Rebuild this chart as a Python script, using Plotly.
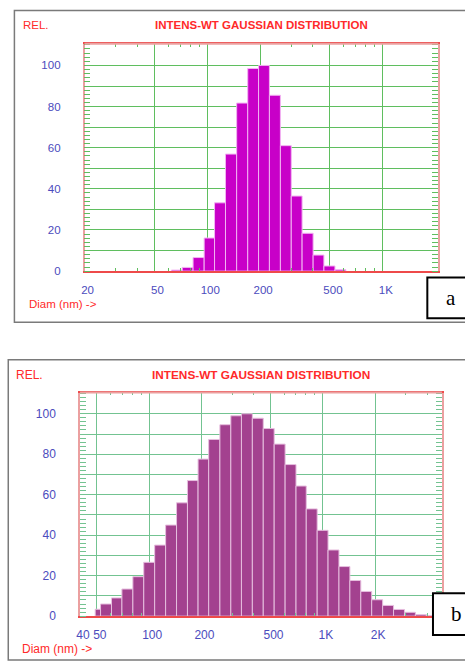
import math
import plotly.graph_objects as go

W, H = 465, 665

# ---- panel a: narrow distribution ----
a_edges = [62.5, 72, 83, 96, 110, 127, 147, 170, 196, 226, 261, 301, 347, 401, 462, 534, 616]
a_rel = [0.5, 1.8, 6.6, 16.1, 33.2, 56.9, 81.7, 98.5, 100, 85.5, 61.0, 36.5, 18.4, 7.8, 2.5, 0.7]
a_ticks = [20, 50, 100, 200, 500, 1000]
a_ticktext = ["20", "50", "100", "200", "500", "1K"]
a_minor = [30, 40, 60, 70, 80, 90, 300, 400, 600, 700, 800, 900]

# ---- panel b: broad distribution ----
b_edges = [48.9, 52.5, 60.7, 69.7, 80.6, 93.1, 107.6, 124.4, 143.8, 166.2, 191.3, 220.2,
           255.5, 295.3, 340, 392.9, 454, 524.8, 606.6, 701, 803, 928, 1072, 1239, 1432,
           1655, 1912, 2211, 2555, 2953, 3413, 3945, 4560]
b_rel = [3.4, 6.0, 9.0, 13.4, 19.5, 26.6, 35.1, 45.0, 56.0, 67.0, 77.6, 87.3, 94.6, 99.0,
         100, 97.8, 92.7, 85.0, 74.9, 64.3, 53.0, 42.4, 32.7, 24.5, 17.6, 12.2, 8.1, 5.3,
         3.3, 1.9, 0.8, 0.3]
b_ticks = [40, 50, 100, 200, 500, 1000, 2000]
b_ticktext = ["40", "50", "100", "200", "500", "1K", "2K"]
b_minor = [60, 70, 80, 90, 300, 400, 600, 700, 800, 900, 3000, 4000]

y_ticks = [0, 10, 20, 30, 40, 50, 60, 70, 80, 90, 100]
y_ticktext = ["0", "", "20", "", "40", "", "60", "", "80", "", "100"]

TITLE = "INTENS-WT GAUSSIAN DISTRIBUTION"
FONT = "Liberation Sans, Arial, sans-serif"
RED = "#ff2a2a"
BLUE = "#4b4bbd"


def px(x):
    return x / W


def py(y):
    return 1 - y / H


fig = go.Figure()
fig.add_trace(go.Bar(
    x=a_edges[:-1], y=a_rel, offset=0,
    width=[hi - lo for lo, hi in zip(a_edges[:-1], a_edges[1:])],
    marker=dict(color="#c800c8", line=dict(color="#f2b4f2", width=1)),
    xaxis="x", yaxis="y", showlegend=False,
))
fig.add_trace(go.Bar(
    x=b_edges[:-1], y=b_rel, offset=0,
    width=[hi - lo for lo, hi in zip(b_edges[:-1], b_edges[1:])],
    marker=dict(color="#a3418f", line=dict(color="#e6bede", width=1)),
    xaxis="x2", yaxis="y2", showlegend=False,
))


def xaxis(dom, anchor, lo, hi, ticks, text, minor, grid, size):
    return dict(
        type="log", domain=dom, anchor=anchor, range=[math.log10(lo), math.log10(hi)],
        tickmode="array", tickvals=ticks, ticktext=text, ticks="",
        showgrid=True, gridcolor=grid, gridwidth=1, zeroline=False,
        showline=True, linecolor="#ee4a4a", linewidth=1.5, mirror="ticks",
        ticklabelstandoff=7, ticklabelshift=3,
        tickfont=dict(family=FONT, size=size, color=BLUE),
        minor=dict(tickmode="array", tickvals=minor, ticks="inside", ticklen=3,
                   tickcolor=grid, tickwidth=1, showgrid=False),
        fixedrange=True,
    )


def yaxis(dom, anchor, grid, size):
    return dict(
        domain=dom, anchor=anchor, range=[0, 110.5],
        tickmode="array", tickvals=y_ticks, ticktext=y_ticktext, ticks="",
        showgrid=True, gridcolor=grid, gridwidth=1, zeroline=False,
        showline=True, linecolor="#eba0a0", linewidth=1.5, mirror="ticks",
        ticklabelstandoff=20, tickfont=dict(family=FONT, size=size, color=BLUE),
        minor=dict(dtick=2, tick0=0, ticks="inside", ticklen=6, tickcolor=grid,
                   tickwidth=1, showgrid=False),
        fixedrange=True,
    )


GREEN_A = "rgb(95,190,95)"
GREEN_B = "rgb(115,195,145)"

fig.update_layout(
    width=W, height=H, margin=dict(l=0, r=0, t=0, b=0),
    paper_bgcolor="white", plot_bgcolor="white",
    xaxis=xaxis([px(81.3), px(438)], "y", 20, 2070, a_ticks, a_ticktext, a_minor, GREEN_A, 11.5),
    yaxis=yaxis([py(274), py(44.3)], "x", GREEN_A, 11.5),
    xaxis2=xaxis([px(76.7), px(441.7)], "y2", 40, 4850, b_ticks, b_ticktext, b_minor, GREEN_B, 12),
    yaxis2=yaxis([py(622.7), py(396.7)], "x2", GREEN_B, 12),
)

# text labels
labels = [
    ("REL.", 17, 25, "left", 11.5, False),
    (TITLE, 260, 25, "center", 11.5, True),
    ("Diam (nm) ->", 23, 307, "left", 11.5, False),
    ("REL.", 10, 379, "left", 12, False),
    (TITLE, 259, 379, "center", 11.8, True),
    ("Diam (nm) ->", 16, 656, "left", 12, False),
]
for text, x, y, anchor, size, bold in labels:
    fig.add_annotation(
        text=f"<b>{text}</b>" if bold else text, x=px(x), y=py(y),
        xref="paper", yref="paper", xanchor=anchor, yanchor="middle", showarrow=False,
        font=dict(family=FONT, size=size, color=RED),
    )

# panel frames and the a / b tag boxes
for x0, y0, x1, y1 in [(10.5, 10.5, 467, 325.7), (4.3, 363.5, 467, 667)]:
    fig.add_shape(type="rect", xref="paper", yref="paper",
                  x0=px(x0), y0=py(y0), x1=px(x1), y1=py(y1),
                  line=dict(color="#7a7a7a", width=1.5), layer="below")

for x0, y0, x1, y1, tag in [(427, 280.5, 467, 321.7, "a"), (432.7, 599.5, 467, 641.7, "b")]:
    fig.add_shape(type="rect", xref="paper", yref="paper",
                  x0=px(x0), y0=py(y0), x1=px(x1), y1=py(y1),
                  line=dict(color="black", width=2), fillcolor="white", layer="above")
    fig.add_annotation(text=tag, x=px(x0 + 24), y=py((y0 + y1) / 2), xref="paper", yref="paper",
                       showarrow=False, xanchor="center", yanchor="middle",
                       font=dict(family="Liberation Serif, Times New Roman, serif", size=21, color="black"))

# top edge of the plot frames is pink, not red
for xa, ya in [("x", "y"), ("x2", "y2")]:
    fig.add_shape(type="line", xref=f"{xa} domain", yref=f"{ya} domain",
                  x0=0, x1=1, y0=1, y1=1, line=dict(color="#eba0a0", width=2), layer="above")

# drop the default 8px page margin so the figure sits at the window origin
fig.write_html("out.html", config={"displayModeBar": False},
               post_script="document.body.style.margin='0px';")
